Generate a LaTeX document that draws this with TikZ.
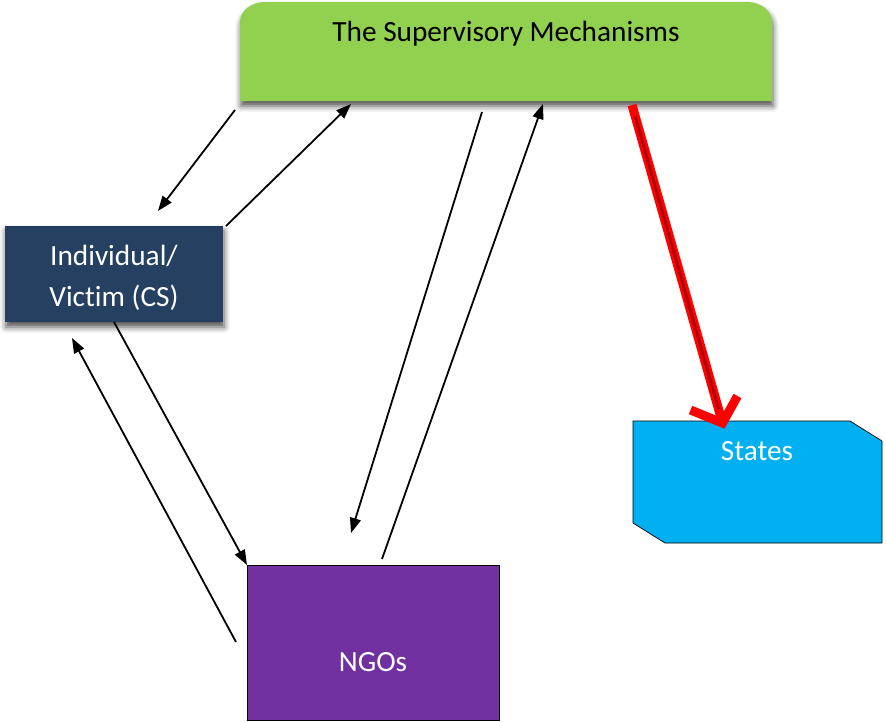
\documentclass[tikz,border=0pt]{standalone}
\usepackage{fontspec}
\setmainfont[Ligatures=NoCommon]{Carlito}
\usetikzlibrary{calc,arrows.meta,shadows.blur,backgrounds}
\definecolor{supgreen}{HTML}{92D050}
\definecolor{indnavy}{RGB}{38,64,97}
\definecolor{stblue}{HTML}{00B0F0}
\definecolor{ngopurple}{HTML}{7030A0}
\definecolor{darkred}{HTML}{B00000}
\tikzset{
  x=1pt, y=-1pt,
  anchorbox/.style={rectangle, draw=none, inner sep=0pt, outer sep=0pt},
  lbl/.style={font=\fontsize{29.3}{41}\selectfont, inner sep=0pt, align=center},
  myshadow/.style={blur shadow={shadow xshift=1pt, shadow yshift=-5pt, shadow blur radius=6pt, shadow opacity=70}},
  arr/.style={-{Triangle[length=15pt,width=11pt]}, line width=1.8pt, black},
  redline/.style={red, line width=9pt},
}
\begin{document}
\begin{tikzpicture}
\useasboundingbox (0,0) rectangle (886,721);
% anchor boxes
\node[anchorbox, minimum width=532pt, minimum height=99pt] (sup) at (506,51.5) {};
\node[anchorbox, minimum width=218pt, minimum height=96pt, fill=indnavy, myshadow] (ind) at (114,274) {};
\node[anchorbox, minimum width=249pt, minimum height=122pt] (st) at (757.5,482) {};
\node[anchorbox, minimum width=252pt, minimum height=155pt, fill=ngopurple, draw=black, line width=0.6pt] (ngo) at (373,642.5) {};
% supervisory shape
\begin{scope}[on background layer]
\fill[supgreen, myshadow] (sup.south west) -- ($(sup.north west)+(0,20)$)
   arc[start angle=180, end angle=270, x radius=25, y radius=20]
   -- ($(sup.north east)+(-25,0)$)
   arc[start angle=270, end angle=360, x radius=25, y radius=20]
   -- (sup.south east) -- cycle;
\end{scope}
% states shape
\filldraw[fill=stblue, draw=black, line width=0.7pt]
  (st.north west) -- ($(st.north east)+(-32,0)$) -- ($(st.north east)+(0,20)$)
  -- (st.south east) -- ($(st.south west)+(32,0)$) -- ($(st.south west)+(0,-20)$) -- cycle;
% labels
\node[lbl, anchor=base] (suptxt) at (506,41) {The Supervisory Mechanisms};
\node[lbl, text=white] (indtxt) at (114,277.5) {Individual/\\Victim (CS)};
\node[lbl, text=white, anchor=base] (sttxt) at (757,460) {States};
\node[lbl, text=white, anchor=base] (ngotxt) at (373,671) {NGOs};
% black arrows
\draw[arr] ($(sup.south west)+(-5,9)$) -- ($(ind.north)+(44,-15)$);
\draw[arr] ($(ind.north east)+(3,0)$) -- ($(sup.south west)+(111,3)$);
\draw[arr] ($(sup.south)+(-24,11)$) -- ($(ngo.north)+(-22,-32)$);
\draw[arr] ($(ngo.north)+(9,-6)$) -- ($(sup.south)+(37,3)$);
\draw[arr] (ind.south) -- (ngo.north west);
\draw[arr] ($(ngo.north west)+(-11,77)$) -- ($(ind.south west)+(67,16)$);
% red arrow
\coordinate (rtip) at ($(st.north)+(-35,2)$);
\coordinate (rstart) at ($(sup.south)+(126,4)$);
\draw[redline] (rstart) -- ($(rtip)!6pt!(rstart)$);
\draw[darkred, line width=3pt] ($(rstart)!12pt!(rtip)$) -- ($(rtip)!14pt!(rstart)$);
\draw[redline, line join=miter] ($(rtip)+(-32,-13)$) -- (rtip) -- ($(rtip)+(15,-27)$);
\end{tikzpicture}
\end{document}
